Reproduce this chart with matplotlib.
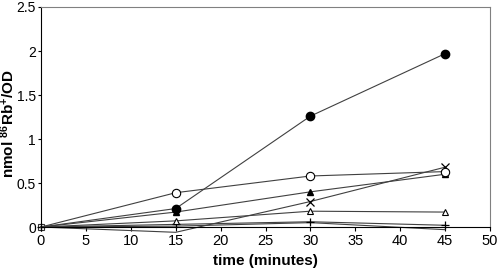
import matplotlib.pyplot as plt

plt.rcParams['font.family'] = ['Liberation Sans', 'DejaVu Sans']
plt.rcParams['mathtext.fontset'] = 'custom'
plt.rcParams['mathtext.rm'] = 'Liberation Sans'
plt.rcParams['mathtext.bf'] = 'Liberation Sans:bold'

# time points (minutes)
t = [0, 15, 30, 45]

# uptake values, one list per strain
filled_circle = [0, 0.21, 1.26, 1.97]
open_circle = [0, 0.39, 0.58, 0.63]
filled_tri = [0, 0.17, 0.40, 0.60]
cross = [0, -0.06, 0.29, 0.68]
open_tri = [0, 0.07, 0.18, 0.17]
plus = [0, 0.03, 0.06, 0.02]
square = [0, 0.01, 0.05, -0.03]

fig = plt.figure(figsize=(4.98, 2.69), dpi=100)
ax = fig.add_axes([0.0823, 0.156, 0.9017, 0.818])

lc = '#404040'
kw = dict(color=lc, lw=0.8, clip_on=False)
later = [1, 2, 3]
ax.plot(t, square, marker='s', ms=5, mfc='none', mec='#333333', mew=0.8,
        markevery=[0], **kw)
ax.plot(t, plus, marker='+', ms=6, mec='black', mew=0.9, **kw)
ax.plot(t, open_tri, marker='^', ms=5, mfc='white', mec='black', mew=0.8,
        markevery=later, **kw)
ax.plot(t, cross, marker='x', ms=6, mec='black', mew=0.9, markevery=[2, 3], **kw)
ax.plot(t, filled_tri, marker='^', ms=5, mfc='black', mec='black',
        markevery=later, **kw)
ax.plot(t, open_circle, marker='o', ms=6, mfc='white', mec='black', mew=0.8,
        markevery=later, **kw)
ax.plot(t, filled_circle, marker='o', ms=6, mfc='black', mec='black',
        markevery=later, **kw)

ax.set_xlim(0, 50)
ax.set_ylim(0, 2.5)
ax.set_xticks(range(0, 51, 5))
ax.set_yticks([0, 0.5, 1, 1.5, 2, 2.5])
ax.set_yticklabels(['0', '0.5', '1', '1.5', '2', '2.5'])
ax.tick_params(labelsize=10.5, length=3, width=0.8, direction='out', pad=2)
ax.tick_params(axis='y', labelsize=10, length=2, pad=1.5)

for s in ['top', 'right']:
    ax.spines[s].set_color('#808080')
    ax.spines[s].set_linewidth(0.8)
for s in ['left', 'bottom']:
    ax.spines[s].set_color('black')
    ax.spines[s].set_linewidth(0.8)

ax.set_xlabel('time (minutes)', fontsize=11, fontweight='bold', labelpad=4)
ax.set_ylabel('nmol $\\mathbf{^{86}}$Rb$\\mathbf{^{+}}$/OD', fontsize=11,
              fontweight='bold')
ax.yaxis.set_label_coords(-0.053, 0.47)

fig.savefig('out.png', dpi=100)
